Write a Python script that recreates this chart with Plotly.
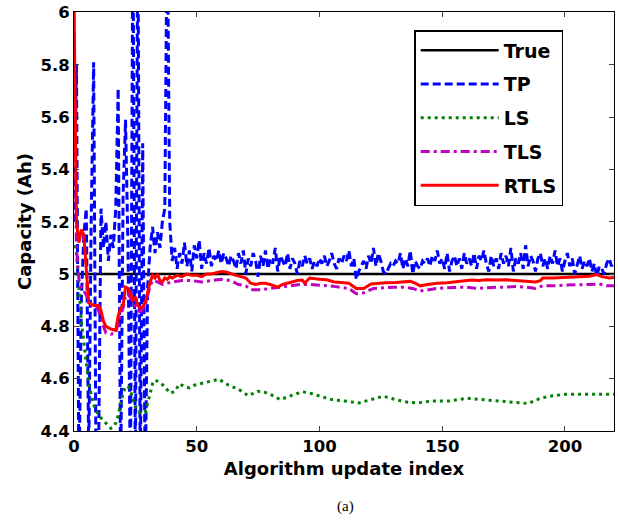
import plotly.graph_objects as go

# ---------------- data ----------------
x_range = [0, 220]
y_range = [4.4, 6.0]
true_x = [0, 220]
true_y = [5.0, 5.0]

tp_y = [
    5.2, 5.8, 4.2, 4.9, 5.15, 5.25, 4.3, 5.2, 5.81, 4.2,
    4.3, 5.25, 5.1, 5.2, 5.05, 5.15, 5.1, 5.25, 5.71, 4.2,
    5.3, 5.59, 5.1, 4.2, 6.4, 4.2, 6.4, 4.2, 5.5, 4.2,
    4.95, 5.1, 5.18, 5.08, 5.16, 5.1, 5.2, 5.25, 6.4, 5.2,
    5.05, 5.10, 5.02, 5.08, 5.04, 5.12, 5.03, 5.09, 5.01, 5.11,
    5.06, 5.13, 5.02, 5.08, 5.04, 5.10, 5.03, 5.07, 5.05, 5.09,
    5.04, 5.08, 5.06, 5.03, 5.07, 5.05, 5.02, 5.08, 5.04, 5.09,
    5.00, 5.06, 5.03, 5.08, 5.05, 4.99, 5.07, 5.03, 5.09, 5.02,
    5.06, 5.04, 5.10, 5.01, 5.07, 5.05, 5.03, 5.08, 5.02, 5.06,
    5.04, 5.00, 5.05, 5.03, 5.07, 5.04, 5.06, 5.02, 5.05, 5.03,
    5.06, 5.04, 5.07, 5.03, 5.05, 5.08, 5.04, 5.02, 5.06, 5.04,
    5.07, 5.05, 5.09, 5.03, 5.06, 4.98, 5.01, 5.03, 5.05, 5.02,
    5.07, 5.04, 5.10, 5.03, 5.08, 5.05, 5.01, 5.00, 5.02, 5.04,
    5.03, 5.05, 5.04, 5.08, 5.02, 5.06, 5.03, 5.09, 5.00, 5.05,
    5.03, 5.02, 5.05, 5.04, 5.06, 5.03, 5.07, 5.05, 5.09, 5.04,
    5.06, 5.02, 5.08, 5.01, 5.05, 5.07, 5.03, 5.06, 5.02, 5.08,
    5.04, 5.06, 5.03, 5.08, 5.02, 5.07, 5.05, 5.09, 5.04, 5.01,
    5.07, 5.03, 5.06, 5.02, 5.08, 5.04, 5.07, 5.03, 5.10, 5.01,
    5.06, 5.04, 5.08, 5.02, 5.11, 5.03, 5.07, 5.05, 5.01, 5.06,
    5.08, 5.03, 5.06, 5.02, 5.07, 5.04, 5.09, 5.03, 5.06, 5.01,
    5.05, 5.08, 5.03, 5.06, 5.00, 5.04, 5.07, 5.02, 5.05, 5.03,
    5.06, 5.01, 5.04, 4.99, 5.03, 5.02, 5.00, 5.04, 5.06, 5.03,
    5.05,
]
tp_x = list(range(len(tp_y)))

ls_x = [0, 1, 2, 3, 4, 5, 6, 7, 8, 9, 10, 11, 12, 13, 14, 15, 16, 17, 18, 19,
        20, 21, 22, 23, 24, 25, 26, 27, 28, 29, 30, 31, 32, 33, 35, 37, 39, 41, 43, 45,
        47, 49, 51, 55, 59, 63, 67, 71, 75, 79, 84, 89, 93, 96, 100, 105, 110, 116, 121, 126,
        131, 136, 140, 146, 153, 160, 166, 173, 180, 185, 190, 195, 200, 207, 214, 220]
ls_y = [5.11, 5.08, 4.95, 4.82, 4.74, 4.66, 4.58, 4.54, 4.50, 4.48, 4.46, 4.45, 4.44, 4.43, 4.42, 4.41, 4.415, 4.43, 4.46, 4.50,
        4.545, 4.57, 4.57, 4.555, 4.52, 4.49, 4.475, 4.47, 4.468, 4.47, 4.51, 4.55, 4.58, 4.595, 4.585, 4.57, 4.545, 4.55, 4.58, 4.57,
        4.565, 4.575, 4.58, 4.59, 4.598, 4.575, 4.56, 4.535, 4.552, 4.545, 4.52, 4.537, 4.55, 4.545, 4.535, 4.52, 4.515, 4.507, 4.52, 4.533,
        4.52, 4.51, 4.507, 4.515, 4.515, 4.525, 4.52, 4.514, 4.51, 4.505, 4.525, 4.535, 4.54, 4.54, 4.542, 4.54]

tls_x = [0, 1, 2, 3, 5, 7, 9, 10, 12, 13, 15, 17, 18, 19, 20, 21, 22, 23, 24, 25,
         26, 27, 28, 29, 30, 31, 32, 34, 36, 38, 40, 44, 48, 52, 56, 60, 64, 67, 70, 72,
         76, 80, 84, 88, 92, 96, 100, 104, 108, 112, 115, 118, 122, 126, 130, 134, 138, 141, 144, 148,
         152, 156, 160, 164, 168, 172, 176, 180, 184, 188, 191, 196, 200, 205, 210, 214, 217, 220]
tls_y = [6.0, 5.1, 4.98, 4.95, 4.92, 4.885, 4.875, 4.86, 4.80, 4.775, 4.77, 4.775, 4.81, 4.85, 4.87, 4.92, 4.925, 4.91, 4.89, 4.88,
         4.86, 4.855, 4.865, 4.88, 4.92, 4.955, 4.975, 4.97, 4.96, 4.965, 4.97, 4.975, 4.975, 4.97, 4.975, 4.98, 4.975, 4.96, 4.955, 4.94,
         4.94, 4.945, 4.95, 4.955, 4.96, 4.96, 4.958, 4.955, 4.95, 4.945, 4.925, 4.928, 4.945, 4.948, 4.95, 4.95, 4.945, 4.935, 4.94, 4.945,
         4.948, 4.95, 4.95, 4.945, 4.948, 4.95, 4.95, 4.952, 4.95, 4.945, 4.955, 4.955, 4.958, 4.958, 4.96, 4.962, 4.955, 4.955]

rtls_x = [0, 1, 2, 3, 4, 5, 6, 8, 10, 11, 12, 13, 15, 17, 18, 19, 20, 21, 22, 23,
          24, 25, 26, 27, 28, 29, 30, 31, 32, 33, 34, 35, 36, 37, 38, 39, 40, 42, 44, 46,
          48, 50, 52, 54, 56, 58, 60, 62, 64, 66, 68, 70, 72, 74, 76, 78, 80, 82, 83, 85,
          87, 89, 91, 93, 94, 96, 98, 100, 103, 106, 109, 112, 115, 118, 121, 124, 127, 131, 134, 137,
          139, 141, 144, 148, 152, 156, 159, 162, 165, 168, 172, 176, 180, 184, 188, 190, 191, 195, 200, 205,
          210, 213, 215, 218, 220]
rtls_y = [6.05, 5.2, 5.12, 5.17, 5.15, 5.0, 4.89, 4.88, 4.88, 4.86, 4.82, 4.80, 4.79, 4.785, 4.84, 4.87, 4.88, 4.95, 4.945, 4.93,
          4.90, 4.91, 4.88, 4.87, 4.875, 4.89, 4.93, 4.97, 4.995, 4.985, 5.0, 4.975, 4.97, 4.985, 4.98, 4.99, 4.985, 4.995, 4.99, 5.0,
          4.995, 4.995, 4.99, 5.0, 5.0, 5.005, 5.01, 5.008, 5.0, 4.995, 4.99, 4.985, 4.965, 4.96, 4.965, 4.965, 4.96, 4.955, 4.95, 4.96,
          4.965, 4.97, 4.975, 4.977, 4.965, 4.985, 4.982, 4.98, 4.978, 4.97, 4.968, 4.965, 4.945, 4.945, 4.962, 4.965, 4.967, 4.968, 4.97, 4.972,
          4.965, 4.955, 4.96, 4.965, 4.967, 4.972, 4.975, 4.977, 4.975, 4.978, 4.977, 4.978, 4.975, 4.972, 4.97, 4.975, 4.985, 4.985, 4.988, 4.99,
          4.992, 4.998, 4.99, 4.985, 4.987]

x_ticks = [0, 50, 100, 150, 200]
y_ticks = [4.4, 4.6, 4.8, 5.0, 5.2, 5.4, 5.6, 5.8, 6.0]
y_tick_text = ["4.4", "4.6", "4.8", "5", "5.2", "5.4", "5.6", "5.8", "6"]

# ---------------- figure ----------------
FONT = "DejaVu Sans, Arial, sans-serif"
fig = go.Figure()
fig.add_trace(go.Scatter(x=true_x, y=true_y, mode="lines", name="True",
                         legendgroup="a", line=dict(color="black", width=2.5)))
fig.add_trace(go.Scatter(x=tp_x, y=tp_y, mode="lines", name="TP",
                         legendgroup="b", line=dict(color="#0000ff", width=3, dash="8px,4px")))
fig.add_trace(go.Scatter(x=ls_x, y=ls_y, mode="lines", name="LS",
                         legendgroup="c", line=dict(color="#008000", width=3, dash="3px,4px")))
fig.add_trace(go.Scatter(x=tls_x, y=tls_y, mode="lines", name="TLS",
                         legendgroup="d", line=dict(color="#bf00bf", width=3, dash="9px,4px,3px,4px")))
fig.add_trace(go.Scatter(x=rtls_x, y=rtls_y, mode="lines", name="RTLS",
                         legendgroup="e", line=dict(color="#ff0000", width=3)))

tick_font = dict(family=FONT, size=16.5, color="black", weight="bold")
title_font = dict(family=FONT, size=18, color="black", weight="bold")
fig.update_layout(
    width=618, height=525,
    margin=dict(l=74, r=3, t=9, b=94),
    paper_bgcolor="white", plot_bgcolor="white",
    showlegend=True,
    legend=dict(x=0.63, y=0.957, xanchor="left", yanchor="top",
                bgcolor="white", bordercolor="black", borderwidth=1.5,
                font=dict(family=FONT, size=19, color="black", weight="bold"),
                tracegroupgap=6, itemwidth=78),
    xaxis=dict(range=x_range, tickvals=x_ticks, ticks="inside", ticklen=5,
               showline=True, linecolor="black", linewidth=1, mirror="allticks",
               showgrid=False, zeroline=False, tickfont=tick_font,
               title=dict(text="Algorithm update index", font=title_font, standoff=7)),
    yaxis=dict(range=[y_range[0] - 0.0001, y_range[1] + 0.002], tickvals=y_ticks, ticktext=y_tick_text,
               ticks="inside", ticklen=5,
               showline=True, linecolor="black", linewidth=1, mirror="allticks",
               showgrid=False, zeroline=False, tickfont=tick_font,
               title=dict(text="Capacity (Ah)", font=title_font, standoff=4)),
    annotations=[dict(text="(a)", xref="paper", yref="paper", x=0.502, y=-0.205,
                      showarrow=False, font=dict(family="Liberation Serif, Times New Roman, serif",
                                                 size=15, color="black"))],
)

fig.write_html("out.html", config={"displayModeBar": False},
               post_script="document.body.style.margin='0';")
